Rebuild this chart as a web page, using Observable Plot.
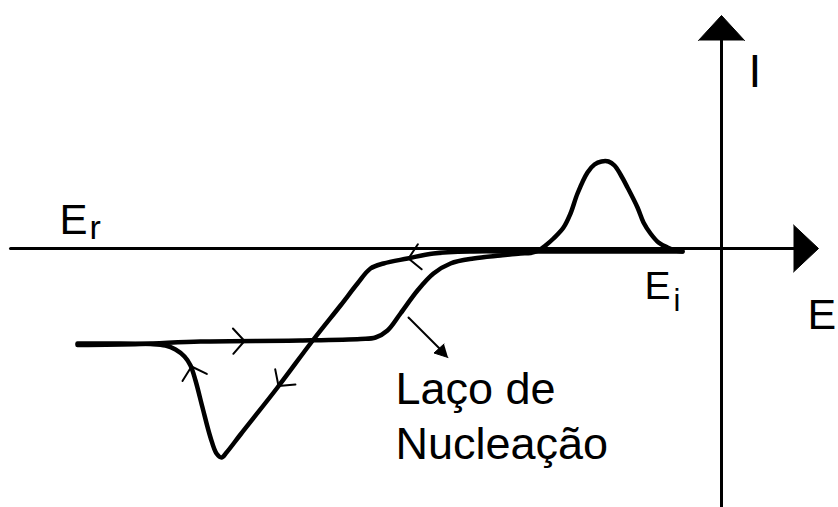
<!DOCTYPE html>
<html>
<head>
<meta charset="utf-8">
<script src="https://cdn.jsdelivr.net/npm/d3@7"></script>
<script src="https://cdn.jsdelivr.net/npm/@observablehq/plot@0.6"></script>
<style>
  html, body { margin: 0; padding: 0; background: #fff; }
  #chart svg { display: block; }
</style>
</head>
<body>
<div id="chart"></div>
<script>
// ---- Data (E = potential, I = current, arbitrary units; origin at axis crossing) ----
// Forward (cathodic) scan: from E_i towards E_r
const forwardE = [-3.9, -10.1, -16.1, -21.1, -24.8, -28.8, -31.4, -33.8, -35.1, -36.4, -38.1, -40.8, -44.4, -48.1, -49.5, -50.0, -50.5, -51.1, -51.9, -52.6, -53.1, -53.7, -54.6, -55.6, -57.1, -61.1, -64.4];
const forwardI = [-0.3, -0.3, -0.3, -0.3, -0.3, -0.5, -1.0, -1.5, -2.0, -3.5, -5.7, -9.1, -13.9, -18.6, -20.4, -20.9, -20.5, -18.9, -15.9, -13.2, -11.7, -10.8, -10.1, -9.7, -9.55, -9.5, -9.5];
// Reverse (anodic) scan: from E_r back to E_i, with stripping peak
const reverseE = [-64.4, -58.1, -52.1, -42.1, -36.1, -34.6, -33.4, -32.1, -30.4, -28.8, -27.1, -24.8, -22.1, -20.1, -19.1, -18.3, -17.6, -16.8, -15.8, -15.1, -14.4, -13.4, -12.7, -12.0, -11.3, -10.7, -10.1, -9.4, -8.4, -7.8, -7.1, -6.3, -5.4, -4.6, -3.9];
const reverseI = [-9.65, -9.55, -9.3, -9.2, -9.05, -8.9, -8.2, -6.5, -4.2, -2.5, -1.5, -1.0, -0.7, -0.5, -0.45, -0.2, 0.3, 1.0, 2.1, 3.5, 5.5, 7.6, 8.4, 8.7, 8.7, 8.3, 7.4, 6.1, 4.1, 2.6, 1.5, 0.6, 0.1, -0.2, -0.3];

// Axes extents and arrowheads
const eAxisE = [-71.1, 7.5];
const iAxisI = [-25.9, 21.0];
const eAxisHeadE = [7.2, 9.7, 7.2];
const eAxisHeadI = [2.35, 0, -2.35];
const iAxisHeadE = [-2.3, 0, 2.3];
const iAxisHeadI = [20.8, 23.3, 20.8];

// Direction-of-scan arrows on the curve (a point behind -> tip)
const dirTailE = [-29.3, -49.7, -43.1, -52.6];
const dirTailI = [-0.7, -9.28, -12.15, -13.2];
const dirTipE  = [-31.3, -47.7, -44.3, -53.0];
const dirTipI  = [-1.0, -9.25, -13.75, -11.8];

// Pointer to the nucleation loop label
const pointerE = [-31.3, -27.55];
const pointerI = [-6.9, -10.65];
const pointerHeadE = [-27.35, -28.75, -27.75];
const pointerHeadI = [-10.9, -10.45, -9.55];

// Labels
const labelText = ["E", "r", "E", "i", "I", "E", "Laço de\nNucleação"];
const labelE    = [-66.2, -63.2, -7.7, -4.8, 2.7, 8.6, -32.6];
const labelI    = [1.5, 1.0, -5.0, -6.2, 16.15, -8.0, -11.7];

// ---- Build tables ----
const curve = [
  ...forwardE.map((E, k) => ({E, I: forwardI[k], scan: "forward"})),
  ...reverseE.map((E, k) => ({E, I: reverseI[k], scan: "reverse"}))
];
const axes = [
  ...eAxisE.map(E => ({E, I: 0, axis: "E"})),
  ...iAxisI.map(I => ({E: 0, I, axis: "I"}))
];
const heads = [
  ...eAxisHeadE.map((E, k) => ({E, I: eAxisHeadI[k], h: "E"})),
  ...iAxisHeadE.map((E, k) => ({E, I: iAxisHeadI[k], h: "I"})),
  ...pointerHeadE.map((E, k) => ({E, I: pointerHeadI[k], h: "P"}))
];
// x and y scales have the same pixels-per-unit, so the angle can be computed in data units
const dirArrows = dirTipE.map((E, k) => ({
  E, I: dirTipI[k],
  angle: Math.atan2(E - dirTailE[k], dirTipI[k] - dirTailI[k]) * 180 / Math.PI
}));
const pointer = [{E1: pointerE[0], I1: pointerI[0], E2: pointerE[1], I2: pointerI[1]}];
const labels = labelText.map((t, k) => ({t, E: labelE[k], I: labelI[k]}));
const font = "Liberation Sans, Arial, Helvetica, sans-serif";
const pick = idx => idx.map(k => labels[k]);

// open chevron pointing "up" with its tip at the anchor point
const chevron = {
  draw(context, l) {
    const a = 48 * Math.PI / 180;
    const w = l * Math.sin(a), h = l * Math.cos(a);
    context.moveTo(-w, h);
    context.lineTo(0, 0);
    context.lineTo(w, h);
  }
};

const chart = Plot.plot({
  width: 838,
  height: 507,
  margin: 0,
  x: {domain: [-72.1, 11.7], axis: null},
  y: {domain: [-25.9, 24.8], axis: null},
  style: {background: "#fff"},
  marks: [
    Plot.line(axes, {x: "E", y: "I", z: "axis", stroke: "black", strokeWidth: 3}),
    Plot.line(heads, {x: "E", y: "I", z: "h", fill: "black", stroke: "black", strokeWidth: 1}),
    Plot.line(curve, {x: "E", y: "I", z: "scan", stroke: "black", strokeWidth: 4.5, curve: "catmull-rom", strokeLinejoin: "round", strokeLinecap: "round"}),
    Plot.vector(dirArrows, {x: "E", y: "I", rotate: "angle", length: 17, anchor: "start", shape: chevron, stroke: "black", strokeWidth: 2, fill: "none"}),
    Plot.arrow(pointer, {x1: "E1", y1: "I1", x2: "E2", y2: "I2", stroke: "black", strokeWidth: 2, headLength: 0}),
    Plot.text(pick([0]), {x: "E", y: "I", text: "t", fontSize: 42, fontFamily: font, textAnchor: "start", lineAnchor: "bottom", fill: "black"}),
    Plot.text(pick([1]), {x: "E", y: "I", text: "t", fontSize: 34, fontFamily: font, textAnchor: "start", lineAnchor: "bottom", fill: "black"}),
    Plot.text(pick([2]), {x: "E", y: "I", text: "t", fontSize: 39, fontFamily: font, textAnchor: "start", lineAnchor: "bottom", fill: "black"}),
    Plot.text(pick([3]), {x: "E", y: "I", text: "t", fontSize: 31, fontFamily: font, textAnchor: "start", lineAnchor: "bottom", fill: "black"}),
    Plot.text(pick([4]), {x: "E", y: "I", text: "t", fontSize: 46, fontFamily: font, textAnchor: "start", lineAnchor: "bottom", fill: "black"}),
    Plot.text(pick([5]), {x: "E", y: "I", text: "t", fontSize: 43, fontFamily: font, textAnchor: "start", lineAnchor: "bottom", fill: "black"}),
    Plot.text(pick([6]), {x: "E", y: "I", text: "t", fontSize: 45, lineHeight: 1.22, fontFamily: font, textAnchor: "start", lineAnchor: "top", fill: "black"})
  ]
});
document.getElementById("chart").appendChild(chart);
</script>
</body>
</html>
